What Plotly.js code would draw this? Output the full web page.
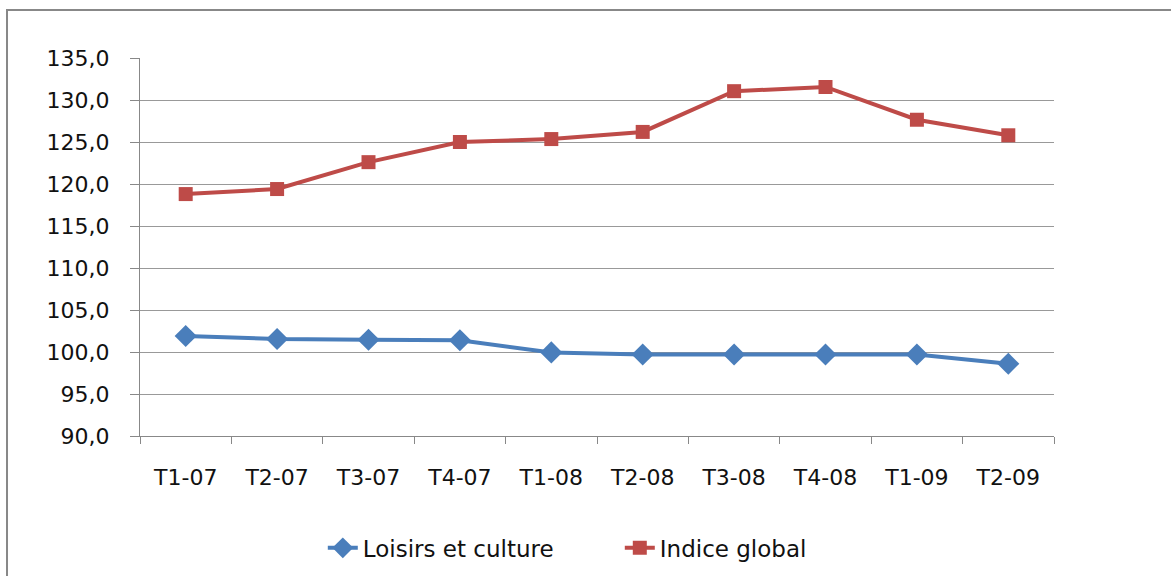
<!DOCTYPE html>
<html>
<head>
<meta charset="utf-8">
<script src="https://cdn.plot.ly/plotly-3.0.1.min.js"></script>
<style>
html,body{margin:0;padding:0;background:#fff;}
#chart{width:1171px;height:576px;}
</style>
</head>
<body>
<div id="chart"></div>
<script>
const categories = ["T1-07","T2-07","T3-07","T4-07","T1-08","T2-08","T3-08","T4-08","T1-09","T2-09"];
const loisirsEtCulture = [101.9,101.55,101.45,101.4,99.95,99.7,99.7,99.7,99.7,98.6];
const indiceGlobal = [118.8,119.4,122.6,125.0,125.35,126.2,131.05,131.55,127.65,125.8];
const seriesNames = ["Loisirs et culture","Indice global"];

const FONT = "DejaVu Sans, Open Sans, sans-serif";

const traces = [
  {
    x: categories, y: loisirsEtCulture, name: seriesNames[0],
    type: "scatter", mode: "lines+markers",
    line: {color: "#4A7EBB", width: 4},
    marker: {symbol: "diamond", size: 17, color: "#4A7EBB"}
  },
  {
    x: categories, y: indiceGlobal, name: seriesNames[1],
    type: "scatter", mode: "lines+markers",
    line: {color: "#BE4B48", width: 4},
    marker: {symbol: "square", size: 14, color: "#BE4B48"}
  }
];

const layout = {
  width: 1171, height: 576,
  margin: {l: 140, r: 117, t: 58, b: 140, autoexpand: false},
  paper_bgcolor: "#fff", plot_bgcolor: "#fff",
  separators: ", ",
  font: {family: FONT, size: 22, color: "#111"},
  showlegend: true,
  legend: {
    orientation: "h", x: 0.2, xanchor: "left", y: -0.296, yanchor: "middle",
    font: {family: FONT, size: 23, color: "#111"},
    traceorder: "normal", entrywidth: 252
  },
  xaxis: {
    type: "category", range: [-0.5, categories.length - 0.5],
    showline: true, linecolor: "#888", linewidth: 1,
    ticks: "outside", tickson: "boundaries", ticklen: 7, tickcolor: "#888",
    showgrid: false, zeroline: false,
    ticklabelstandoff: 22,
    tickfont: {family: FONT, size: 22, color: "#111"}
  },
  yaxis: {
    range: [90, 135], dtick: 5, tick0: 90,
    tickformat: ".1f",
    showline: true, linecolor: "#888", linewidth: 1,
    ticks: "outside", ticklen: 9, tickcolor: "#888",
    showgrid: true, gridcolor: "#999", gridwidth: 1,
    zeroline: false,
    ticklabelstandoff: 16,
    tickfont: {family: FONT, size: 22, color: "#111"}
  },
  shapes: [
    {
      type: "rect", xref: "paper", yref: "paper",
      x0: -0.1455, x1: 1.14, y0: -0.39, y1: 1.127,
      line: {color: "#888", width: 2}, fillcolor: "rgba(0,0,0,0)", layer: "below"
    }
  ]
};

Plotly.newPlot("chart", traces, layout, {displayModeBar: false, staticPlot: true});
</script>
</body>
</html>
